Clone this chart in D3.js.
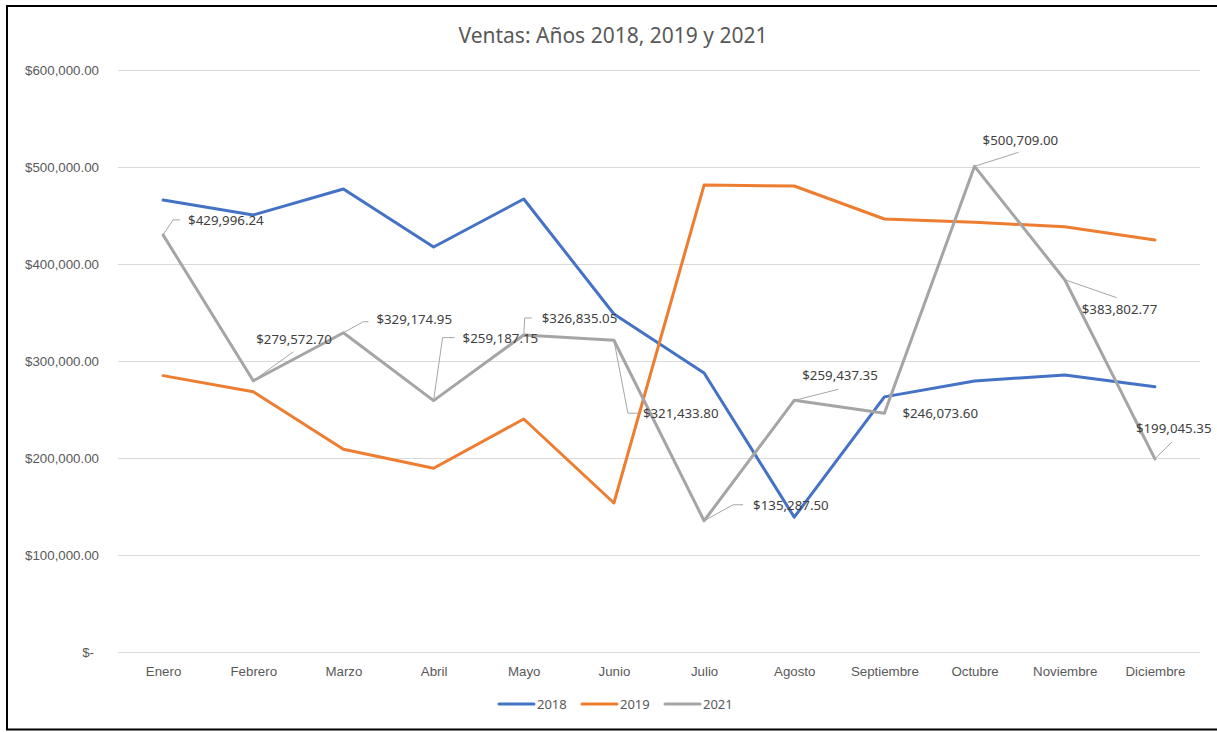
<!DOCTYPE html>
<html>
<head>
<meta charset="utf-8">
<script src="https://cdn.jsdelivr.net/npm/d3@7"></script>
<style>
  body { margin: 0; background: #fff; }
  svg { display: block; font-family: "Noto Sans", "Open Sans", sans-serif; }
</style>
</head>
<body>
<div id="chart"></div>
<script>
// chart data
const months = ["Enero", "Febrero", "Marzo", "Abril", "Mayo", "Junio", "Julio",
  "Agosto", "Septiembre", "Octubre", "Noviembre", "Diciembre"]
const years = ["2018", "2019", "2021"]
const ventas2018 = [466000, 450500, 477300, 417500, 467000, 348500, 287600,
  139000, 263000, 279400, 285600, 273500]
const ventas2019 = [284900, 268400, 209000, 189400, 240200, 153600, 481400,
  480400, 446400, 443000, 438500, 424700]
const ventas2021 = [429996.24, 279572.70, 329174.95, 259187.15, 326835.05, 321433.80,
  135287.50, 259437.35, 246073.60, 500709.00, 383802.77, 199045.35]
const yTicks = [0, 100000, 200000, 300000, 400000, 500000, 600000]

// where each 2021 data label sits relative to its point, and its leader line
const labelPlacement = [
  {dx: 25, dy: -15, leader: [[0, 0], [10, -15], [17, -15]]},
  {dx: 3, dy: -42, leader: [[0, 0], [40, -29]]},
  {dx: 33, dy: -13, leader: [[0, 0], [20, -11], [25, -11]]},
  {dx: 29, dy: -62, leader: [[0, 0], [9, -63], [21, -63]]},
  {dx: 18, dy: -17, leader: [[0, 0], [1, -17], [8, -17]]},
  {dx: 29, dy: 73, leader: [[0, 0], [14, 73], [24, 73]]},
  {dx: 49, dy: -16, leader: [[0, 0], [29, -16], [39, -16]]},
  {dx: 8, dy: -25, leader: [[0, 0], [44, -11]]},
  {dx: 18, dy: 0, leader: null},
  {dx: 8, dy: -26, leader: [[0, 0], [44, -14]]},
  {dx: 17, dy: 30, leader: [[0, 0], [52, 18]]},
  {dx: -19, dy: -31, leader: [[0, 0], [17, -17]]}
]

const colors = {"2018": "#4472C4", "2019": "#ED7D31", "2021": "#A5A5A5"}
const series = [
  {name: "2018", values: ventas2018},
  {name: "2019", values: ventas2019},
  {name: "2021", values: ventas2021}
]

const W = 1217, H = 732
const margin = {top: 70, right: 17, bottom: 80, left: 118}

const svg = d3.select("#chart").append("svg")
  .attr("width", W)
  .attr("height", H)

// outer frame
svg.append("rect")
  .attr("x", 7).attr("y", 6)
  .attr("width", 1225).attr("height", 723.5)
  .attr("fill", "#fff")
  .attr("stroke", "#000")
  .attr("stroke-width", 2)

svg.append("text")
  .attr("x", 613).attr("y", 43)
  .attr("text-anchor", "middle")
  .attr("font-size", "21px")
  .attr("fill", "#595959")
  .text("Ventas: Años 2018, 2019 y 2021")

const x = d3.scalePoint()
  .domain(months)
  .range([margin.left, W - margin.right])
  .padding(0.5)

const y = d3.scaleLinear()
  .domain([0, 600000])
  .range([652, 70])

const money = d3.format("$,.2f")

// y axis + gridlines
const yAxis = svg.append("g")
  .attr("transform", "translate(" + margin.left + ",0)")
  .call(d3.axisLeft(y)
    .tickValues(yTicks)
    .tickSize(-(W - margin.right - margin.left))
    .tickPadding(19)
    .tickFormat(d => d === 0 ? "$-" : money(d)))
yAxis.select(".domain").remove()
yAxis.selectAll(".tick line").attr("stroke", "#D9D9D9").attr("stroke-width", 1)
yAxis.selectAll(".tick text")
  .attr("fill", "#595959")
  .attr("font-size", "13.3px")
  .attr("font-family", null)
  .attr("dx", d => d === 0 ? -5 : 0)

// x axis labels
const xAxis = svg.append("g")
  .attr("transform", "translate(0,652)")
  .call(d3.axisBottom(x).tickSize(0).tickPadding(15))
xAxis.select(".domain").remove()
xAxis.selectAll(".tick text")
  .attr("fill", "#595959")
  .attr("font-size", "13.3px")
  .attr("font-family", null)

// lines
const line = d3.line()
  .x((d, i) => x(months[i]))
  .y(d => y(d))

svg.selectAll(".serie")
  .data(series)
  .enter()
  .append("path")
  .attr("class", "serie")
  .attr("d", d => line(d.values))
  .attr("fill", "none")
  .attr("stroke", d => colors[d.name])
  .attr("stroke-width", 3)
  .attr("stroke-linejoin", "round")
  .attr("stroke-linecap", "round")

// data labels for 2021
const labels = svg.append("g")
ventas2021.forEach(function(v, i) {
  const px = x(months[i]), py = y(v)
  const p = labelPlacement[i]
  if (p.leader) {
    labels.append("path")
      .attr("d", d3.line()(p.leader.map(q => [px + q[0], py + q[1]])))
      .attr("fill", "none")
      .attr("stroke", "#A6A6A6")
      .attr("stroke-width", 1)
  }
  labels.append("text")
    .attr("x", px + p.dx)
    .attr("y", py + p.dy)
    .attr("dy", "0.36em")
    .attr("font-size", "13.3px")
    .attr("fill", "#404040")
    .text(money(v))
})

// legend
const legend = svg.append("g")
  .attr("transform", "translate(499,704)")
const item = legend.selectAll("g")
  .data(years)
  .enter()
  .append("g")
  .attr("transform", (d, i) => "translate(" + (i * 83) + ",0)")
item.append("line")
  .attr("x1", 0).attr("x2", 35)
  .attr("stroke", d => colors[d])
  .attr("stroke-width", 3)
  .attr("stroke-linecap", "round")
item.append("text")
  .attr("x", 38)
  .attr("dy", "0.36em")
  .attr("font-size", "13px")
  .attr("fill", "#595959")
  .text(d => d)
</script>
</body>
</html>
